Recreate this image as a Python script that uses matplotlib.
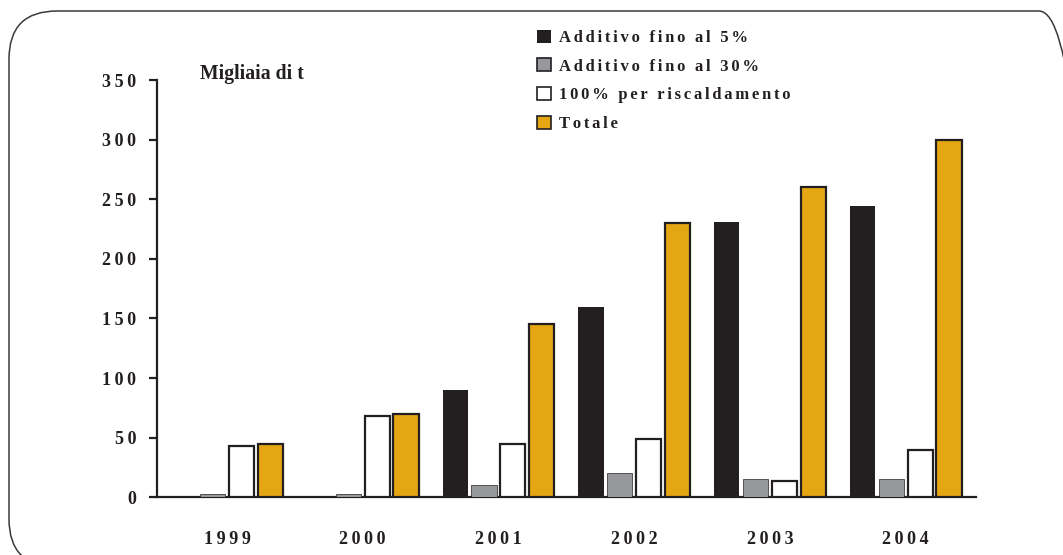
import matplotlib.pyplot as plt
import numpy as np
from matplotlib.patches import FancyBboxPatch, Patch
from matplotlib.font_manager import FontProperties

# migliaia di tonnellate per anno
years = ["1999", "2000", "2001", "2002", "2003", "2004"]
additivo_5 = [0, 0, 90, 160, 231, 244]
additivo_30 = [2.5, 2.5, 10, 20, 15, 15]
riscaldamento = [43, 68, 45, 49, 14, 40]
totale = [45, 70, 145, 230, 260, 300]

series_names = ["Additivo fino al 5%", "Additivo fino al 30%",
                "100% per riscaldamento", "Totale"]
ink = "#231f20"
colors = [ink, "#97989b", "white", "#e5a613"]
edge_w = [0, 0.5, 1.6, 1.6]

serif = ["Liberation Serif", "DejaVu Serif"]


def spaced(s, gap="\u2009"):
    # stretch the lettering a bit, like the old spreadsheet fonts
    return gap.join(s)


fig = plt.figure(figsize=(10.63, 5.55), dpi=100)
ax = fig.add_axes([157.3 / 1063, 1 - 497.3 / 555, (975.7 - 157.3) / 1063, (497.3 - 80) / 555])

x = np.arange(len(years))
step = 0.2125
width = 0.185
data = [additivo_5, additivo_30, riscaldamento, totale]
for i, vals in enumerate(data):
    ax.bar(x + (i - 1.5) * step, vals, width=width, color=colors[i],
           edgecolor=ink, linewidth=edge_w[i], zorder=3)

ax.set_xlim(-0.513, 5.515)
ax.set_ylim(0, 350)

yt = np.arange(0, 351, 50)
ax.set_yticks(yt)
ax.set_yticklabels([spaced(str(v)) for v in yt], fontfamily=serif,
                   fontweight="bold", fontsize=13, color=ink)
ax.set_xticks(x)
ax.set_xticklabels([spaced(y) for y in years], fontfamily=serif,
                   fontweight="bold", fontsize=13, color=ink)
ax.tick_params(axis="y", length=5.5, width=1.6, color=ink, pad=9.5)
ax.tick_params(axis="x", length=0, pad=24)

for side in ["top", "right"]:
    ax.spines[side].set_visible(False)
for side in ["left", "bottom"]:
    ax.spines[side].set_linewidth(1.6)
    ax.spines[side].set_color(ink)

fig.text(200 / 1063, 1 - 79 / 555, "Migliaia di t", fontfamily=serif,
         fontweight="bold", fontsize=14.2, color=ink, va="baseline", ha="left")

handles = [Patch(facecolor=colors[i], edgecolor=ink, linewidth=0 if i == 0 else 1.2)
           for i in range(4)]
leg = ax.legend(handles, [spaced(n, "\u200a\u200a") for n in series_names],
                loc="upper left", bbox_to_anchor=(536.7 / 1063, 1 - 29.5 / 555),
                bbox_transform=fig.transFigure, frameon=False,
                prop=FontProperties(family=serif, weight="bold", size=12),
                handlelength=0.84, handleheight=0.84, handletextpad=0.5,
                labelspacing=0.74, borderpad=0, borderaxespad=0)
for t in leg.get_texts():
    t.set_color(ink)

# rounded frame around the whole chart (pixel units, origin bottom left)
frame = FancyBboxPatch((9, -12), 1078, 556, boxstyle="round,pad=0,rounding_size=48",
                       transform=None, facecolor="none",
                       edgecolor="#3a3a3a", linewidth=1.1)
fig.patches.append(frame)

fig.savefig("out.png", dpi=100)
